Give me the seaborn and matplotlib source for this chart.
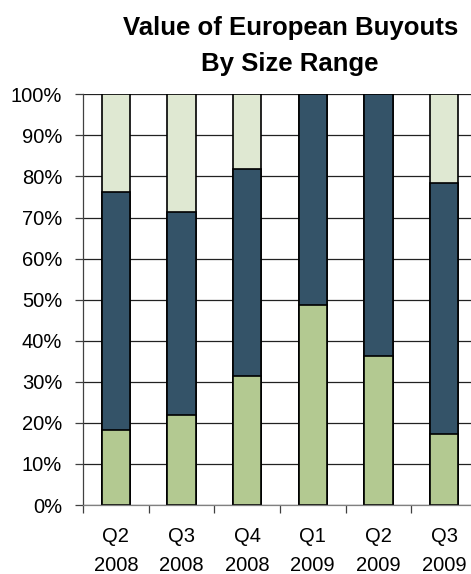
import numpy as np
import matplotlib
matplotlib.use("Agg")
import matplotlib.pyplot as plt
from matplotlib.ticker import PercentFormatter
import seaborn as sns
import pandas as pd

QUARTERS = ["Q2\n2008", "Q3\n2008", "Q4\n2008", "Q1\n2009", "Q2\n2009", "Q3\n2009"]
# share of value per size range (%)
SMALL = [18.2, 22.0, 31.3, 48.8, 36.2, 17.2]
MID = [57.9, 49.3, 50.6, 51.2, 63.8, 61.3]
LARGE = [23.9, 28.7, 18.1, 0.0, 0.0, 21.5]

COLORS = {"small": "#b3c991", "mid": "#345368", "large": "#dfe8d2"}


def main():
    sns.set_style("white")
    plt.rcParams["font.family"] = ["Liberation Sans", "DejaVu Sans"]
    plt.rcParams["text.color"] = "black"
    plt.rcParams["xtick.color"] = "black"
    plt.rcParams["ytick.color"] = "black"

    df = pd.DataFrame({"quarter": QUARTERS, "small": SMALL,
                       "mid": MID, "large": LARGE})
    # cumulative tops for stacking
    df["top_small"] = df["small"]
    df["top_mid"] = df["small"] + df["mid"]
    df["top_large"] = df["top_mid"] + df["large"]

    fig = plt.figure(figsize=(4.71, 5.74), dpi=100)
    ax = fig.add_axes([0.1762, 0.1202, 1.0 - 0.1762, 0.8357 - 0.1202])

    ax.set_axisbelow(True)
    for col, key in [("top_large", "large"), ("top_mid", "mid"),
                     ("top_small", "small")]:
        sns.barplot(data=df, x="quarter", y=col, color=COLORS[key],
                    width=0.43, edgecolor="black", linewidth=1.2,
                    saturation=1, ax=ax)

    ax.set_ylim(0, 100)
    ax.set_xlim(-0.5, 5.41)
    ax.set_yticks(np.arange(0, 101, 10))
    ax.yaxis.set_major_formatter(PercentFormatter(decimals=0))
    ax.grid(True, axis="y", color="#222222", linewidth=0.9)

    ax.set_xticks(np.arange(-0.5, 5.5, 1.0), minor=True)
    ax.set_xticks(range(len(QUARTERS)))
    ax.set_xticklabels(QUARTERS, linespacing=1.65)
    ax.tick_params(axis="x", which="major", length=0, pad=16, labelsize=14.5)
    ax.tick_params(axis="x", which="minor", length=6, width=0.9,
                   color="#404040", direction="out")
    ax.tick_params(axis="y", length=6, width=0.9, color="#404040",
                   direction="out", labelsize=14.5, pad=9)
    ax.tick_params(bottom=True, left=True, which="both")

    for side in ["top", "right"]:
        ax.spines[side].set_visible(False)
    ax.spines["left"].set_color("#404040")
    ax.spines["bottom"].set_color("#808080")
    ax.spines["left"].set_linewidth(0.9)
    ax.spines["bottom"].set_linewidth(0.9)

    ax.set_xlabel("")
    ax.set_ylabel("")

    fig.text(0.616, 0.92, "Value of European Buyouts\nBy Size Range",
             ha="center", va="center", fontsize=18.5, fontweight="bold",
             linespacing=1.6, color="black")

    fig.savefig("out.png", dpi=100)
    plt.close(fig)


if __name__ == "__main__":
    main()
